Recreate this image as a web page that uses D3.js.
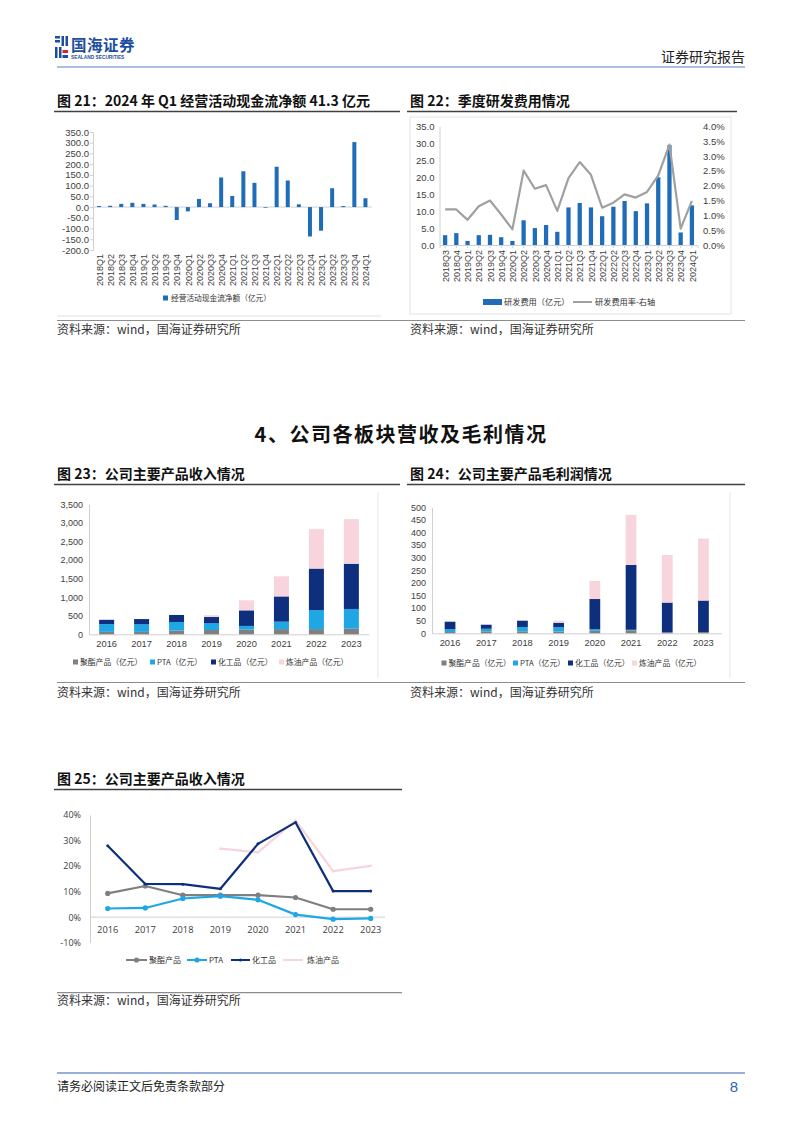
<!DOCTYPE html>
<html>
<head>
<meta charset="utf-8">
<title>国海证券 图21-25</title>
<script src="https://cdn.jsdelivr.net/npm/d3@7"></script>
<style>
  body { margin: 0; background: #fff; }
  svg { display: block; font-family: "Liberation Sans", Arial, sans-serif; }
  .cjk { font-family: "Noto Sans CJK SC", sans-serif; }
</style>
</head>
<body>
<svg width="802" height="1133"></svg>
<script>
// ---- data ----
const quarters21 = ["2018Q1","2018Q2","2018Q3","2018Q4","2019Q1","2019Q2","2019Q3","2019Q4",
  "2020Q1","2020Q2","2020Q3","2020Q4","2021Q1","2021Q2","2021Q3","2021Q4",
  "2022Q1","2022Q2","2022Q3","2022Q4","2023Q1","2023Q2","2023Q3","2023Q4","2024Q1"];
const cashFlow = [5,6,15,20,15,12,6,-60,-20,38,18,138,52,167,113,-3,188,124,13,-137,-110,88,5,303,41.3];

const quarters22 = ["2018Q3","2018Q4","2019Q1","2019Q2","2019Q3","2019Q4","2020Q1","2020Q2",
  "2020Q3","2020Q4","2021Q1","2021Q2","2021Q3","2021Q4","2022Q1","2022Q2","2022Q3","2022Q4",
  "2023Q1","2023Q2","2023Q3","2023Q4","2024Q1"];
const rdCost = [2.9,3.5,1.2,2.9,3.0,2.3,1.2,7.3,5.0,5.9,3.9,11.1,12.4,11.1,8.5,11.3,13.0,10.0,12.3,20.0,29.5,3.7,11.7];
const rdRate = [1.2,1.2,0.85,1.31,1.5,1.03,0.53,2.51,1.9,2.02,1.15,2.26,2.8,2.37,1.26,1.43,1.71,1.6,1.79,2.35,3.39,0.55,1.49];

const years = ["2016","2017","2018","2019","2020","2021","2022","2023"];
const productNames = ["聚酯产品","PTA","化工品","炼油产品"];
const productColors = ["#7f7f7f","#1ea7e4","#0d2f7e","#f8d4dc"];

// 收入（亿元）
const revPolyester = [65,65,100,115,125,140,140,150];
const revPTA = [210,205,230,180,100,200,510,530];
const revChem = [115,140,190,170,420,680,1120,1220];
const revRefine = [0,0,0,50,270,540,1060,1200];

// 毛利润（亿元）
const gpPolyester = [5,8,8,7,10,12,4,5];
const gpPTA = [11,10,17,17,7,2,0,0];
const gpChem = [30,16,25,18,119,257,118,125];
const gpRefine = [0,0,0,8,72,199,189,246];

// 毛利率（%）
const gmPolyester = [9.3,12.2,8.6,8.6,8.6,7.7,3.1,3.1];
const gmPTA = [3.4,3.6,7.3,8.2,6.8,1.0,-0.8,-0.5];
const gmChem = [28.0,13.0,12.9,11.1,28.7,37.1,10.2,10.2];
const gmRefine = [null,null,null,26.8,25.4,37.9,18.0,20.1];

const svg = d3.select('svg');
const blue = '#1f6db8';
const axisGray = '#d0d0d0';
const labelColor = '#404040';

svg.append('rect').attr('width', 802).attr('height', 1133).attr('fill', '#fff');

function styleAxis(g, size, family) {
  g.select('.domain').attr('stroke', axisGray);
  g.selectAll('.tick line').attr('stroke', axisGray);
  g.selectAll('text').attr('font-size', size).attr('fill', labelColor)
    .attr('font-family', family || '"Liberation Sans", Arial, sans-serif');
}

function title(x, y, txt, x2) {
  svg.append('text').attr('class', 'cjk').attr('x', x).attr('y', y)
    .attr('font-size', 14).attr('font-weight', 'bold').attr('fill', '#111').text(txt);
  svg.append('line').attr('x1', x - 3).attr('x2', x2).attr('y1', y + 5.5).attr('y2', y + 5.5)
    .attr('stroke', '#404040').attr('stroke-width', 1.4);
}

function source(x, y) {
  svg.append('text').attr('class', 'cjk').attr('x', x).attr('y', y)
    .attr('font-size', 12).attr('fill', '#333').text('资料来源：wind，国海证券研究所');
}

function sep(y) {
  svg.append('line').attr('x1', 57).attr('x2', 745).attr('y1', y).attr('y2', y)
    .attr('stroke', '#8c8c8c').attr('stroke-width', 1.2);
}

// ---- header ----
const logo = svg.append('g');
logo.append('rect').attr('x', 55).attr('y', 36).attr('width', 5).attr('height', 2.5).attr('fill', '#1d4e9e');
logo.append('rect').attr('x', 55).attr('y', 40).attr('width', 5).attr('height', 2.5).attr('fill', '#1d4e9e');
logo.append('rect').attr('x', 61.5).attr('y', 36).attr('width', 2.5).attr('height', 10).attr('fill', '#1d4e9e');
logo.append('rect').attr('x', 65.5).attr('y', 36).attr('width', 2.5).attr('height', 10).attr('fill', '#1d4e9e');
logo.append('rect').attr('x', 55).attr('y', 47).attr('width', 2.5).attr('height', 11).attr('fill', '#1d4e9e');
logo.append('rect').attr('x', 59).attr('y', 47).attr('width', 2.5).attr('height', 11).attr('fill', '#1d4e9e');
logo.append('rect').attr('x', 62.5).attr('y', 50).attr('width', 5.5).attr('height', 3).attr('fill', '#d7262b');
logo.append('rect').attr('x', 62.5).attr('y', 55).attr('width', 5.5).attr('height', 3).attr('fill', '#1d4e9e');
logo.append('text').attr('class', 'cjk').attr('x', 71).attr('y', 51).attr('font-size', 15.5)
  .attr('font-weight', 'bold').attr('fill', '#1d4e9e').attr('letter-spacing', 0.5).text('国海证券');
logo.append('text').attr('x', 71).attr('y', 59).attr('font-size', 4.8).attr('font-weight', 'bold')
  .attr('fill', '#1d4e9e').text('SEALAND SECURITIES');
svg.append('text').attr('class', 'cjk').attr('x', 745).attr('y', 62).attr('text-anchor', 'end')
  .attr('font-size', 14).attr('fill', '#222').text('证券研究报告');
svg.append('line').attr('x1', 57).attr('x2', 745).attr('y1', 67).attr('y2', 67)
  .attr('stroke', '#a9bfe3').attr('stroke-width', 2);

// ---- 图21 ----
title(57, 106, '图 21：2024 年 Q1 经营活动现金流净额 41.3 亿元', 400);
const x21 = d3.scaleBand().domain(quarters21).range([93.5, 371]).paddingInner(0.64).paddingOuter(0.32);
const y21 = d3.scaleLinear().domain([-200, 350]).range([250, 132]);
const ax21 = svg.append('g').attr('transform', 'translate(93,0)')
  .call(d3.axisLeft(y21).tickValues(d3.range(-200, 351, 50)).tickFormat(d => d.toFixed(1)).tickSize(3).tickPadding(1));
styleAxis(ax21, 9.5);
svg.append('line').attr('x1', 93).attr('x2', 372).attr('y1', y21(0)).attr('y2', y21(0)).attr('stroke', axisGray);
svg.append('g').selectAll('rect').data(cashFlow).join('rect')
  .attr('x', (d, i) => x21(quarters21[i]))
  .attr('width', x21.bandwidth())
  .attr('y', d => y21(Math.max(d, 0)))
  .attr('height', d => Math.abs(y21(d) - y21(0)))
  .attr('fill', blue);
svg.append('g').selectAll('text').data(quarters21).join('text')
  .attr('transform', d => `translate(${x21(d) + x21.bandwidth() / 2 + 0.5},254) rotate(-90)`)
  .attr('text-anchor', 'end').attr('dy', '0.35em').attr('font-size', 9).attr('fill', labelColor).text(d => d);
svg.append('rect').attr('x', 163).attr('y', 295.5).attr('width', 5).attr('height', 5).attr('fill', blue);
svg.append('text').attr('class', 'cjk').attr('x', 171).attr('y', 298).attr('dy', '0.35em')
  .attr('font-size', 7.7).attr('fill', '#333').text('经营活动现金流净额（亿元）');
svg.append('line').attr('x1', 57).attr('x2', 381).attr('y1', 316).attr('y2', 316).attr('stroke', '#e0e0e0');

// ---- 图22 ----
title(410, 106, '图 22：季度研发费用情况', 737);
svg.append('rect').attr('x', 410).attr('y', 117).attr('width', 321).attr('height', 197)
  .attr('fill', 'none').attr('stroke', '#e3e3e3');
const x22 = d3.scaleBand().domain(quarters22).range([439.5, 697.5]).paddingInner(0.62).paddingOuter(0.31);
const y22 = d3.scaleLinear().domain([0, 35]).range([245, 126.5]);
const y22r = d3.scaleLinear().domain([0, 4]).range([245, 126.5]);
const ax22 = svg.append('g').attr('transform', 'translate(439.5,0)')
  .call(d3.axisLeft(y22).tickValues(d3.range(0, 35.1, 5)).tickFormat(d => d.toFixed(1)).tickSize(0).tickPadding(5));
styleAxis(ax22, 9.5);
const ax22r = svg.append('g').attr('transform', 'translate(698,0)')
  .call(d3.axisRight(y22r).tickValues(d3.range(0, 4.01, 0.5)).tickFormat(d => d.toFixed(1) + '%').tickSize(0).tickPadding(5));
styleAxis(ax22r, 9.5);
ax22r.select('.domain').attr('stroke', 'none');
const ax22b = svg.append('g').attr('transform', 'translate(0,245)')
  .call(d3.axisBottom(x22).tickSize(3).tickFormat(''));
styleAxis(ax22b, 9);
svg.append('g').selectAll('rect').data(rdCost).join('rect')
  .attr('x', (d, i) => x22(quarters22[i]))
  .attr('width', x22.bandwidth())
  .attr('y', d => y22(d))
  .attr('height', d => y22(0) - y22(d))
  .attr('fill', blue);
svg.append('path').datum(rdRate)
  .attr('d', d3.line().x((d, i) => x22(quarters22[i]) + x22.bandwidth() / 2).y(d => y22r(d)))
  .attr('fill', 'none').attr('stroke', '#a0a0a0').attr('stroke-width', 2.2).attr('stroke-linejoin', 'round');
svg.append('g').selectAll('text').data(quarters22).join('text')
  .attr('transform', d => `translate(${x22(d) + x22.bandwidth() / 2 + 0.5},250) rotate(-90)`)
  .attr('text-anchor', 'end').attr('dy', '0.35em').attr('font-size', 9).attr('fill', labelColor).text(d => d);
svg.append('rect').attr('x', 483).attr('y', 299).attr('width', 19).attr('height', 6).attr('fill', blue);
svg.append('text').attr('class', 'cjk').attr('x', 504).attr('y', 302).attr('dy', '0.35em')
  .attr('font-size', 8.2).attr('fill', '#333').text('研发费用（亿元）');
svg.append('line').attr('x1', 573).attr('x2', 592).attr('y1', 302).attr('y2', 302)
  .attr('stroke', '#a0a0a0').attr('stroke-width', 2);
svg.append('text').attr('class', 'cjk').attr('x', 595).attr('y', 302).attr('dy', '0.35em')
  .attr('font-size', 8.2).attr('fill', '#333').text('研发费用率-右轴');

sep(320.5);
source(57, 334);
source(410, 334);

// ---- section heading ----
svg.append('text').attr('class', 'cjk').attr('x', 401).attr('y', 442).attr('text-anchor', 'middle')
  .attr('font-size', 20).attr('font-weight', 'bold').attr('letter-spacing', 1.5).attr('fill', '#111')
  .text('4、公司各板块营收及毛利情况');

// ---- stacked bar helper ----
function stackedChart(opt) {
  const rows = years.map((yr, i) => ({ year: yr, s0: opt.series[0][i], s1: opt.series[1][i], s2: opt.series[2][i], s3: opt.series[3][i] }));
  const stack = d3.stack().keys(['s0', 's1', 's2', 's3'])(rows);
  const x = d3.scaleBand().domain(years).range(opt.xr).paddingInner(opt.pi).paddingOuter(opt.po);
  const y = d3.scaleLinear().domain([0, opt.max]).range(opt.yr);
  const ay = svg.append('g').attr('transform', `translate(${opt.xr[0]},0)`)
    .call(d3.axisLeft(y).tickValues(d3.range(0, opt.max + 1, opt.step)).tickFormat(opt.fmt).tickSize(0).tickPadding(6));
  styleAxis(ay, 9);
  const ax = svg.append('g').attr('transform', `translate(0,${opt.yr[0]})`)
    .call(d3.axisBottom(x).tickSize(0).tickPadding(6));
  styleAxis(ax, 9.3);
  svg.append('g').selectAll('g').data(stack).join('g')
    .attr('fill', (d, i) => productColors[i])
    .selectAll('rect').data(d => d).join('rect')
    .attr('x', d => x(d.data.year))
    .attr('width', x.bandwidth())
    .attr('y', d => y(d[1]))
    .attr('height', d => y(d[0]) - y(d[1]));
  const lg = svg.append('g');
  opt.legendX.forEach((lx, i) => {
    lg.append('rect').attr('x', lx).attr('y', opt.legendY - 2.5).attr('width', 5).attr('height', 5).attr('fill', productColors[i]);
    lg.append('text').attr('class', 'cjk').attr('x', lx + 7).attr('y', opt.legendY).attr('dy', '0.35em')
      .attr('font-size', 7.8).attr('fill', '#333').text(productNames[i] + '（亿元）');
  });
  svg.append('line').attr('x1', opt.border).attr('x2', opt.border).attr('y1', 492).attr('y2', 678).attr('stroke', '#e6e6e6');
}

// ---- 图23 ----
title(57, 479, '图 23：公司主要产品收入情况', 400);
stackedChart({
  series: [revPolyester, revPTA, revChem, revRefine],
  xr: [89, 369], pi: 0.571, po: 0.29, yr: [634.3, 504.3], max: 3500, step: 500,
  fmt: d3.format(','), legendX: [73, 150, 211, 279], legendY: 662, border: 378
});

// ---- 图24 ----
title(410, 479, '图 24：公司主要产品毛利润情况', 745);
stackedChart({
  series: [gpPolyester, gpPTA, gpChem, gpRefine],
  xr: [432, 721.5], pi: 0.703, po: 0.35, yr: [633.3, 507.3], max: 500, step: 50,
  fmt: d3.format('d'), legendX: [441.5, 513, 568, 632], legendY: 663, border: 730
});

sep(682.5);
source(57, 697);
source(410, 697);

// ---- 图25 ----
title(57, 784, '图 25：公司主要产品收入情况', 402);
const x25 = d3.scalePoint().domain(years).range([107.7, 370.7]);
const y25 = d3.scaleLinear().domain([-10, 40]).range([942.7, 815]);
const ay25 = svg.append('g').attr('transform', 'translate(90,0)')
  .call(d3.axisLeft(y25).tickValues(d3.range(-10, 41, 10)).tickFormat(d => d + '%').tickSize(0).tickPadding(9));
styleAxis(ay25, 9, '"Open Sans", sans-serif');
svg.append('line').attr('x1', 90).attr('x2', 385).attr('y1', y25(0)).attr('y2', y25(0)).attr('stroke', axisGray);
svg.append('g').selectAll('text').data(years).join('text')
  .attr('x', d => x25(d)).attr('y', 929.5).attr('dy', '0.35em').attr('text-anchor', 'middle')
  .attr('font-family', '"Open Sans", sans-serif').attr('font-size', 9.3).attr('fill', labelColor).text(d => d);

const lineSeries = [
  { vals: gmRefine, color: productColors[3], r: 1.2 },
  { vals: gmPolyester, color: productColors[0], r: 2.6 },
  { vals: gmPTA, color: productColors[1], r: 2.6 },
  { vals: gmChem, color: productColors[2], r: 1.5 }
];
const line25 = d3.line().defined(d => d != null).x((d, i) => x25(years[i])).y(d => y25(d));
lineSeries.forEach(s => {
  svg.append('path').datum(s.vals).attr('d', line25)
    .attr('fill', 'none').attr('stroke', s.color).attr('stroke-width', 2.2).attr('stroke-linejoin', 'round');
  svg.append('g').selectAll('circle').data(s.vals.map((v, i) => [i, v]).filter(p => p[1] != null)).join('circle')
    .attr('cx', p => x25(years[p[0]])).attr('cy', p => y25(p[1])).attr('r', s.r).attr('fill', s.color);
});
const legend25 = [
  { x1: 126, x2: 147, tx: 149, name: '聚酯产品', s: lineSeries[1] },
  { x1: 187, x2: 207, tx: 209, name: 'PTA', s: lineSeries[2] },
  { x1: 231, x2: 250, tx: 252, name: '化工品', s: lineSeries[3] },
  { x1: 283, x2: 303, tx: 307, name: '炼油产品', s: lineSeries[0] }
];
legend25.forEach(l => {
  svg.append('line').attr('x1', l.x1).attr('x2', l.x2).attr('y1', 960).attr('y2', 960)
    .attr('stroke', l.s.color).attr('stroke-width', 2);
  svg.append('circle').attr('cx', (l.x1 + l.x2) / 2).attr('cy', 960).attr('r', l.s.r).attr('fill', l.s.color);
  svg.append('text').attr('class', 'cjk').attr('x', l.tx).attr('y', 960).attr('dy', '0.35em')
    .attr('font-size', 8).attr('fill', '#333').text(l.name);
});
svg.append('line').attr('x1', 57).attr('x2', 402).attr('y1', 992.7).attr('y2', 992.7)
  .attr('stroke', '#8c8c8c').attr('stroke-width', 1.2);
source(57, 1005);

// ---- footer ----
svg.append('line').attr('x1', 57).attr('x2', 745).attr('y1', 1073).attr('y2', 1073)
  .attr('stroke', '#2f63b5').attr('stroke-width', 1.2);
svg.append('text').attr('class', 'cjk').attr('x', 57).attr('y', 1091)
  .attr('font-size', 12).attr('fill', '#222').text('请务必阅读正文后免责条款部分');
svg.append('text').attr('x', 738).attr('y', 1092).attr('text-anchor', 'end')
  .attr('font-size', 15).attr('fill', '#2f63b5').text('8');
</script>
</body>
</html>
